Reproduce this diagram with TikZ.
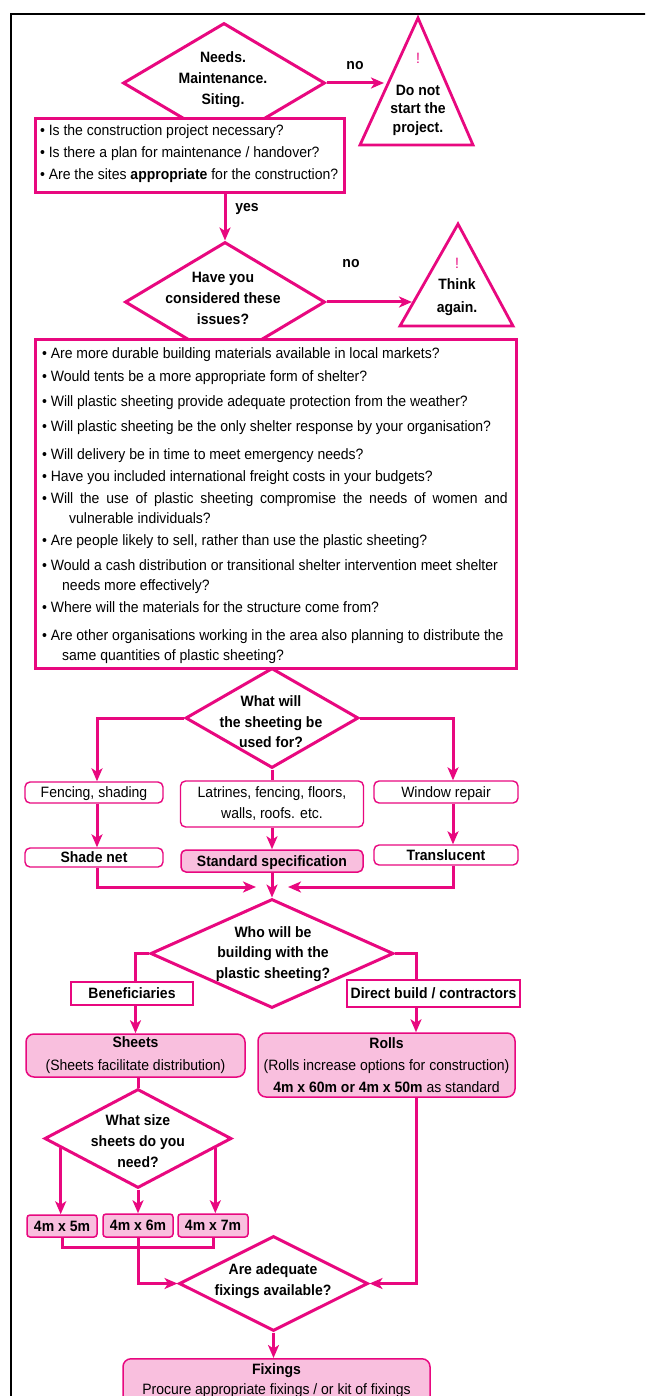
\documentclass[tikz,border=0pt]{standalone}
\usepackage{fontspec}
\setmainfont{Liberation Sans}[FakeStretch=0.933]
\usetikzlibrary{arrows.meta,shapes.geometric,calc}
\definecolor{pk}{HTML}{E8087F}
\definecolor{pkf}{HTML}{F9BFDE}
\newcommand{\fs}{\fontsize{15}{21}\selectfont}
\newcommand{\bl}{\makebox[8.6pt][l]{•}}
\begin{document}
\begin{tikzpicture}[x=1pt,y=-1pt,
  dia/.style={diamond, draw=pk, line width=3pt, fill=white, inner sep=0pt},
  lbl/.style={inner sep=0pt, align=center, font=\fs\bfseries},
  bigbox/.style={draw=pk, line width=2.6pt, fill=white, inner sep=0pt},
  li/.style={anchor=west, inner sep=0pt, text height=10.7pt, text depth=0pt, font=\fs},
  rbox/.style={draw=pk, line width=1.4pt, rounded corners=5pt, fill=white, inner sep=0pt, font=\fs},
  fbox/.style={draw=pk, line width=1.5pt, rounded corners=6pt, fill=pkf, inner sep=0pt, font=\fs},
  sbox/.style={draw=pk, line width=2.7pt, fill=white, inner sep=0pt, text height=10.7pt, text depth=0pt, font=\fs\bfseries},
  tri/.style={draw=pk, line width=2.8pt, line join=miter, fill=white},
  arr/.style={draw=pk, line width=3pt, -{Stealth[length=13pt,width=11pt,inset=3.5pt]}},
  ln/.style={draw=pk, line width=3pt},
]
\useasboundingbox (0,0) rectangle (645,1396);
\clip (0,0) rectangle (645,1396);
\draw[line width=2pt] (11,14) rectangle (700,1450);

% ---- first decision
\node[dia, minimum width=202pt, minimum height=120pt] (d1) at (224,83) {};
\node[lbl] (d1t) at (223,80) {Needs.\\Maintenance.\\Siting.};
\node[bigbox, minimum width=309pt, minimum height=74pt, anchor=north west] (b1) at (34,117) {};
\node[li] (q1) at (40,130) {\bl Is the construction project necessary?};
\node[li] (q2) at (40,152) {\bl Is there a plan for maintenance / handover?};
\node[li] (q3) at (40,174) {\bl Are the sites \textbf{appropriate} for the construction?};

\coordinate (t1a) at (418,18);
\coordinate (t1l) at (360,145);
\coordinate (t1r) at (473,145);
\draw[tri] (t1a) -- (t1l) -- (t1r) -- cycle;
\node[inner sep=0pt, text=pk, font=\fs] (t1x) at (418,58) {!};
\node[lbl, font=\fontsize{15}{18.5}\selectfont\bfseries] (t1t) at (418,110) {Do not\\start the\\project.};
\coordinate (t1e) at (384,83);
\draw[arr] (d1.east) -- (t1e);
\node[lbl] (no1) at (355,66) {no};

% ---- second decision
\node[dia, minimum width=200pt, minimum height=120pt] (d2) at (225,302) {};
\node[lbl] (d2t) at (223,298) {Have you\\considered these\\issues?};
\draw[arr] (b1.south -| d2.north) -- (d2.north);
\node[lbl] (yes) at (247,209) {yes};

\coordinate (t2a) at (458,224);
\coordinate (t2l) at (400,326);
\coordinate (t2r) at (513,326);
\draw[tri] (t2a) -- (t2l) -- (t2r) -- cycle;
\node[inner sep=0pt, text=pk, font=\fs] (t2x) at (457,263) {!};
\node[lbl, font=\fontsize{15}{23}\selectfont\bfseries] (t2t) at (457,297) {Think\\again.};
\coordinate (t2e) at (412,302);
\draw[arr] (d2.east) -- (t2e);
\node[lbl] (no2) at (351,264) {no};

\node[bigbox, minimum width=481pt, minimum height=329pt, anchor=north west] (b2) at (34,338) {};
\node[li] (r1) at (42,353) {\bl Are more durable building materials available in local markets?};
\node[li] (r2) at (42,376) {\bl Would tents be a more appropriate form of shelter?};
\node[li] (r3) at (42,401) {\bl Will plastic sheeting provide adequate protection from the weather?};
\node[li] (r4) at (42,426) {\bl Will plastic sheeting be the only shelter response by your organisation?};
\node[li] (r5) at (42,454) {\bl Will delivery be in time to meet emergency needs?};
\node[li] (r6) at (42,476) {\bl Have you included international freight costs in your budgets?};
\node[li] (r7) at (42,498) {\bl\makebox[457pt][s]{Will the use of plastic sheeting compromise the needs of women and}};
\node[li] (r7b) at (69,518) {vulnerable individuals?};
\node[li] (r8) at (42,540) {\bl Are people likely to sell, rather than use the plastic sheeting?};
\node[li] (r9) at (42,565) {\bl Would a cash distribution or transitional shelter intervention meet shelter};
\node[li] (r9b) at (62,585) {needs more effectively?};
\node[li] (r10) at (42,607) {\bl Where will the materials for the structure come from?};
\node[li] (r11) at (42,635) {\bl Are other organisations working in the area also planning to distribute the};
\node[li] (r11b) at (62,655) {same quantities of plastic sheeting?};

% ---- use
\node[dia, minimum width=173pt, minimum height=100pt] (d3) at (272,718) {};
\node[lbl, font=\fontsize{15}{20.5}\selectfont\bfseries] (d3t) at (271,722) {What will\\the sheeting be\\used for?};
\node[rbox, minimum width=138pt, minimum height=21pt, text height=10.7pt, text depth=0pt] (fence) at (94,792.5) {Fencing, shading};
\node[rbox, minimum width=183pt, minimum height=46pt, align=center] (latr) at (272,804) {Latrines, fencing, floors,\\walls, roofs. etc.};
\node[rbox, minimum width=144pt, minimum height=22pt, text height=10.7pt, text depth=0pt] (win) at (446,792) {Window repair};
\draw[arr] (d3.west) -| ([xshift=3pt]fence.north);
\draw[ln] (d3.south) -- (latr.north);
\draw[arr] (d3.east) -| ([xshift=7pt]win.north);

\node[rbox, minimum width=138pt, minimum height=19pt, text height=10.7pt, text depth=0pt, font=\fs\bfseries] (shade) at (94,857.5) {Shade net};
\node[fbox, rounded corners=5pt, minimum width=182pt, minimum height=22pt, text height=10.7pt, text depth=0pt, font=\fs\bfseries] (std) at (272,861) {Standard specification};
\node[rbox, minimum width=144pt, minimum height=20pt, text height=10.7pt, text depth=0pt, font=\fs\bfseries] (tra) at (446,855) {Translucent};
\draw[arr] ([xshift=3pt]fence.south) -- ([xshift=3pt]shade.north);
\draw[arr] (latr.south) -- (std.north);
\draw[arr] ([xshift=7pt]win.south) -- ([xshift=7pt]tra.north);

% ---- who
\node[dia, minimum width=243pt, minimum height=109pt] (d4) at (272,953.5) {};
\node[lbl, font=\fontsize{15}{20.5}\selectfont\bfseries] (d4t) at (273,954) {Who will be\\building with the\\plastic sheeting?};
\coordinate (mL) at (256,887);
\coordinate (mR) at (288,887);
\draw[arr] ([xshift=3pt]shade.south) |- (mL);
\draw[arr] ([xshift=7pt]tra.south) |- (mR);
\draw[arr] (std.south) -- (d4.north);

\node[sbox, minimum width=122pt, minimum height=23pt] (ben) at (132,993.5) {Beneficiaries};
\node[sbox, minimum width=173pt, minimum height=27pt] (dir) at (433.5,993.5) {Direct build / contractors};
\node[fbox, rounded corners=8pt, minimum width=219pt, minimum height=43pt, align=center, font=\fontsize{15}{23}\selectfont] (sheets) at (135.5,1055.5) {\textbf{Sheets}\\(Sheets facilitate distribution)};
\node[fbox, rounded corners=8pt, minimum width=257pt, minimum height=64pt, align=center, font=\fontsize{15}{22}\selectfont] (rolls) at (386.5,1065) {\textbf{Rolls}\\(Rolls increase options for construction)\\\textbf{4m x 60m or 4m x 50m} as standard};
\coordinate (xr) at (416,0);
\draw[ln] (d4.west) -| (sheets.north |- ben.north);
\draw[arr] (sheets.north |- ben.south) -- (sheets.north);
\draw[ln] (d4.east) -| (xr |- dir.north);
\draw[arr] (xr |- dir.south) -- (xr |- rolls.north);

% ---- size
\node[dia, minimum width=187pt, minimum height=99pt] (d5) at (138,1138.5) {};
\node[lbl] (d5t) at (138,1141) {What size\\sheets do you\\need?};
\draw[ln] (d5.north |- sheets.south) -- (d5.north);
\node[fbox, rounded corners=3pt, minimum width=70pt, minimum height=22pt, text height=10.7pt, text depth=0pt, font=\fs\bfseries] (b5) at (62,1226) {4m x 5m};
\node[fbox, rounded corners=3pt, minimum width=70pt, minimum height=23pt, text height=10.7pt, text depth=0pt, font=\fs\bfseries] (b6) at (138,1225.5) {4m x 6m};
\node[fbox, rounded corners=3pt, minimum width=70pt, minimum height=23pt, text height=10.7pt, text depth=0pt, font=\fs\bfseries] (b7) at (213,1225.5) {4m x 7m};
\draw[arr] (d5.187) -- (d5.187 |- b5.north);
\draw[arr] (d5.south) -- (b6.north);
\draw[arr] (d5.353) -- (d5.353 |- b7.north);

% ---- fixings
\node[dia, minimum width=189pt, minimum height=95pt] (d6) at (273.5,1283.5) {};
\node[lbl] (d6t) at (273,1281) {Are adequate\\fixings available?};
\draw[ln] (b5.south) -- ++(0,10) -| (b7.south);
\draw[arr] (b6.south) |- (d6.west);
\draw[arr] (xr |- rolls.south) |- (d6.east);
\node[fbox, rounded corners=8pt, minimum width=307pt, minimum height=70pt, anchor=north] (fix) at (276.5,1358) {};
\node[lbl, font=\fontsize{15}{20}\selectfont] (fixt) at (276.5,1380.5) {\textbf{Fixings}\\Procure appropriate fixings / or kit of fixings};
\draw[arr] (d6.south) -- (d6.south |- fix.north);
\end{tikzpicture}
\end{document}
